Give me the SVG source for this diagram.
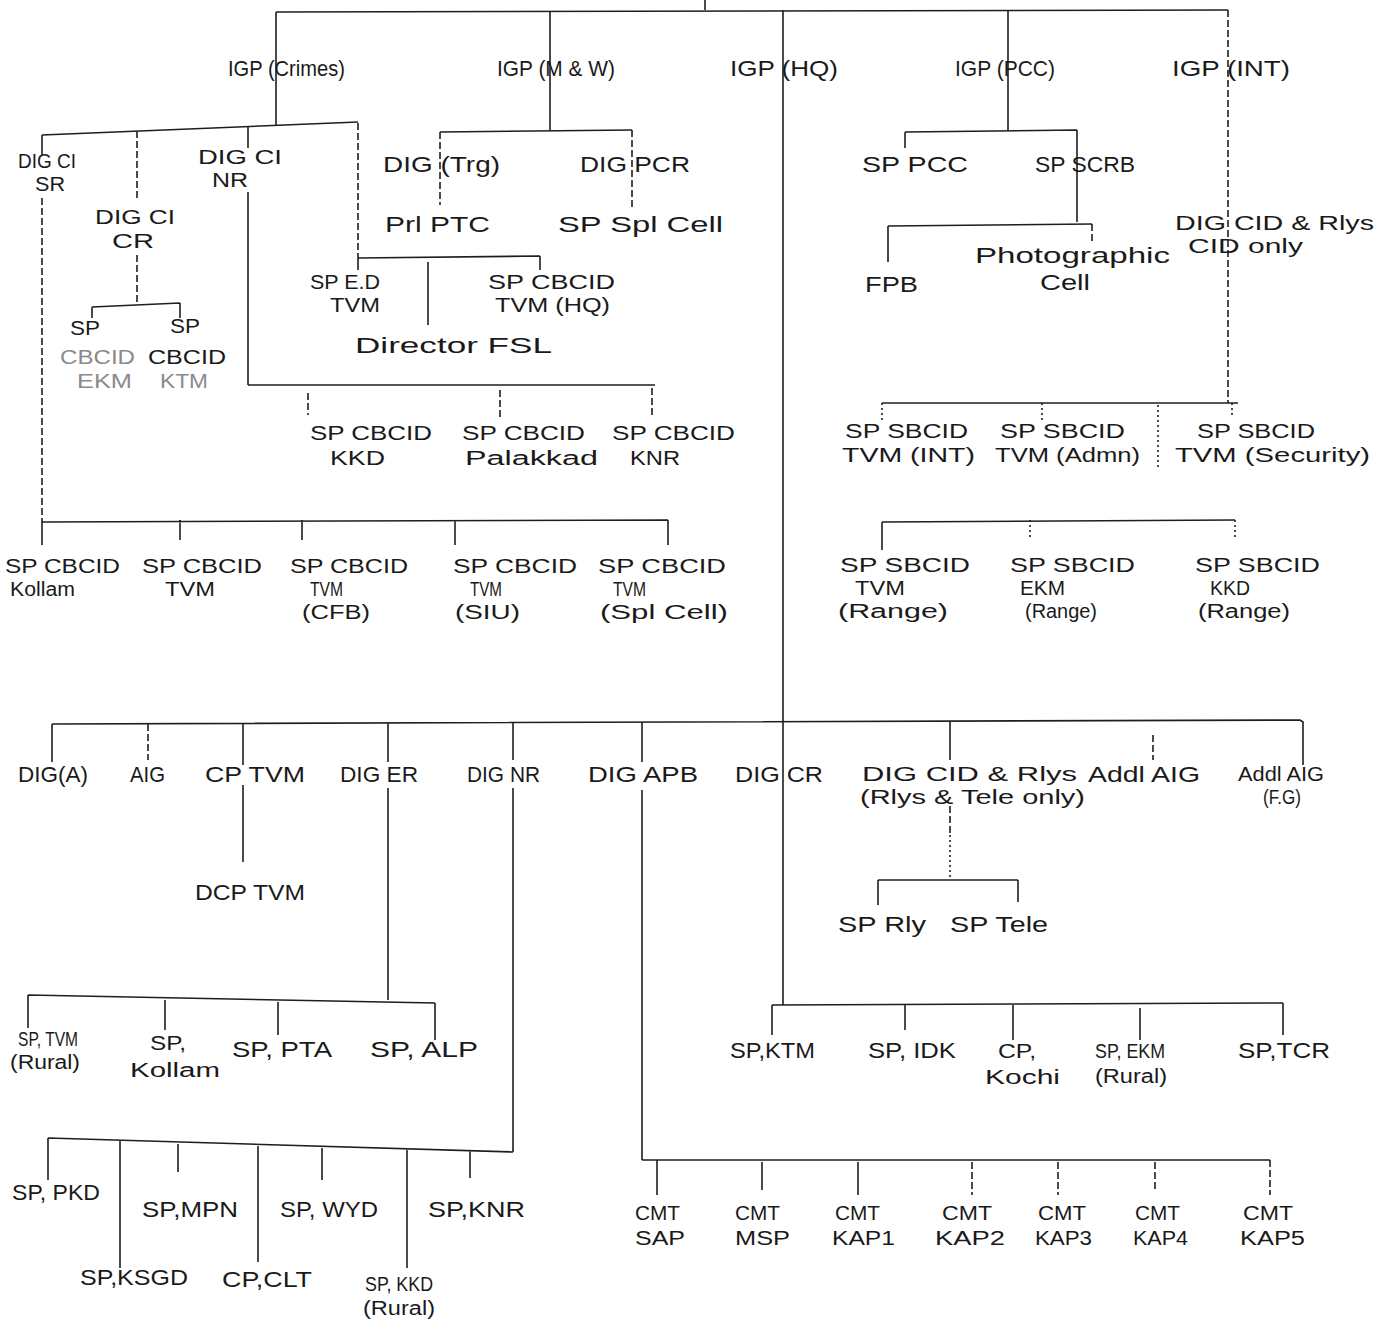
<svg xmlns="http://www.w3.org/2000/svg" width="1374" height="1323" viewBox="0 0 1374 1323">
<style>
.t{font-family:"Liberation Sans",Arial,sans-serif;font-size:22px;fill:#1a1a1a}
.s{font-size:20px}
.f{fill:#8a8a8a}
.l{stroke:#1e1e1e;stroke-width:1.6;fill:none}
.d{stroke-dasharray:7 3}
.o{stroke-dasharray:2 3}
</style>
<rect width="1374" height="1323" fill="#fff"/>
<g id="connectors">
<path class="l" d="M705 0V10M276 12L1228 10"/>
<path class="l" d="M276 12V125M550 12V130M783 10V1005M1008 10V130"/>
<path class="l d" d="M1228 10V403"/>
<path class="l" d="M42 135L358 122"/>
<path class="l" d="M42 135V156"/>
<path class="l d" d="M42 198V522"/>
<path class="l d" d="M137 131V200M137 255V305"/>
<path class="l" d="M248 127V148M248 192V385"/>
<path class="l d" d="M358 123V258"/>
<path class="l" d="M92 307L180 303M92 307V318M180 303V318"/>
<path class="l" d="M358 258L540 256M540 256V270M358 258V270M428 262V325"/>
<path class="l" d="M248 385L655 385"/>
<path class="l d" d="M308 393V415M500 390V420M652 388V415"/>
<path class="l" d="M42 522L668 520M42 522V545M180 520V540M302 520V540M455 520V545M668 520V545"/>
<path class="l" d="M440 132L632 130"/>
<path class="l d" d="M440 132V205M632 130V207"/>
<path class="l" d="M905 132L1077 130M905 132V148M1077 130V222"/>
<path class="l" d="M888 226L1092 224M888 226V262"/>
<path class="l d" d="M1092 224V242"/>
<path class="l" d="M882 403L1238 403"/>
<path class="l o" d="M882 403V420M1042 403V420M1232 403V415M1158 405V470"/>
<path class="l" d="M882 522L1235 520M882 522V550"/>
<path class="l o" d="M1030 520V540M1235 520V540"/>
<path class="l" d="M52 724L1300 720L1303 722V765"/>
<path class="l" d="M52 724V762M243 723V765M388 723V762M513 722V760M642 722V762M950 722V760"/>
<path class="l d" d="M148 724V760M1153 735V760M950 806V835"/>
<path class="l o" d="M950 835V880"/>
<path class="l" d="M243 785V862M388 788V1000M513 788V1152M642 790V1160"/>
<path class="l" d="M878 880L1018 880M878 880V905M1018 880V902"/>
<path class="l" d="M28 995L435 1003M28 995V1028M165 1000V1030M278 1002V1035M435 1003V1040"/>
<path class="l" d="M48 1138L513 1152M48 1138V1180M120 1140V1268M178 1144V1172M258 1146V1262M322 1148V1180M407 1150V1268M470 1151V1178"/>
<path class="l" d="M772 1005L1283 1003M772 1005V1035M905 1005V1030M1013 1005V1040M1140 1008V1040M1283 1003V1035"/>
<path class="l" d="M642 1160L1270 1160M657 1160V1195M762 1162V1190M858 1162V1195"/>
<path class="l d" d="M972 1162V1195M1058 1162V1195M1155 1162V1190M1270 1160V1195"/>
</g>
<g id="igp-crimes"><text class="t" x="228" y="76" textLength="117" lengthAdjust="spacingAndGlyphs">IGP (Crimes)</text></g>
<g id="igp-mw"><text class="t" x="497" y="76" textLength="118" lengthAdjust="spacingAndGlyphs">IGP (M &amp; W)</text></g>
<g id="igp-hq"><text class="t" x="730" y="76" textLength="108" lengthAdjust="spacingAndGlyphs">IGP (HQ)</text></g>
<g id="igp-pcc"><text class="t" x="955" y="76" textLength="100" lengthAdjust="spacingAndGlyphs">IGP (PCC)</text></g>
<g id="igp-int"><text class="t" x="1172" y="76" textLength="118" lengthAdjust="spacingAndGlyphs">IGP (INT)</text></g>
<g id="dig-ci-sr"><text class="t s" x="18" y="168" textLength="58" lengthAdjust="spacingAndGlyphs">DIG CI</text><text class="t s" x="35" y="191" textLength="30" lengthAdjust="spacingAndGlyphs">SR</text></g>
<g id="dig-ci-nr"><text class="t s" x="198" y="164" textLength="84" lengthAdjust="spacingAndGlyphs">DIG CI</text><text class="t s" x="212" y="187" textLength="36" lengthAdjust="spacingAndGlyphs">NR</text></g>
<g id="dig-ci-cr"><text class="t s" x="95" y="224" textLength="80" lengthAdjust="spacingAndGlyphs">DIG CI</text><text class="t s" x="112" y="248" textLength="42" lengthAdjust="spacingAndGlyphs">CR</text></g>
<g id="sp-cbcid-ekm"><text class="t s" x="70" y="335" textLength="30" lengthAdjust="spacingAndGlyphs">SP</text><text class="t s f" x="60" y="364" textLength="75" lengthAdjust="spacingAndGlyphs">CBCID</text><text class="t s f" x="77" y="388" textLength="55" lengthAdjust="spacingAndGlyphs">EKM</text></g>
<g id="sp-cbcid-ktm"><text class="t s" x="170" y="333" textLength="30" lengthAdjust="spacingAndGlyphs">SP</text><text class="t s" x="148" y="364" textLength="78" lengthAdjust="spacingAndGlyphs">CBCID</text><text class="t s f" x="160" y="388" textLength="48" lengthAdjust="spacingAndGlyphs">KTM</text></g>
<g id="sp-ed-tvm"><text class="t s" x="310" y="289" textLength="70" lengthAdjust="spacingAndGlyphs">SP E.D</text><text class="t s" x="330" y="312" textLength="50" lengthAdjust="spacingAndGlyphs">TVM</text></g>
<g id="sp-cbcid-tvm-hq"><text class="t s" x="488" y="289" textLength="127" lengthAdjust="spacingAndGlyphs">SP CBCID</text><text class="t s" x="495" y="312" textLength="115" lengthAdjust="spacingAndGlyphs">TVM (HQ)</text></g>
<g id="director-fsl"><text class="t" x="355" y="353" textLength="197" lengthAdjust="spacingAndGlyphs">Director FSL</text></g>
<g id="sp-cbcid-kkd"><text class="t s" x="310" y="440" textLength="122" lengthAdjust="spacingAndGlyphs">SP CBCID</text><text class="t s" x="330" y="465" textLength="55" lengthAdjust="spacingAndGlyphs">KKD</text></g>
<g id="sp-cbcid-palakkad"><text class="t s" x="462" y="440" textLength="123" lengthAdjust="spacingAndGlyphs">SP CBCID</text><text class="t s" x="465" y="465" textLength="133" lengthAdjust="spacingAndGlyphs">Palakkad</text></g>
<g id="sp-cbcid-knr"><text class="t s" x="612" y="440" textLength="123" lengthAdjust="spacingAndGlyphs">SP CBCID</text><text class="t s" x="630" y="465" textLength="50" lengthAdjust="spacingAndGlyphs">KNR</text></g>
<g id="dig-trg"><text class="t" x="383" y="172" textLength="117" lengthAdjust="spacingAndGlyphs">DIG (Trg)</text></g>
<g id="dig-pcr"><text class="t" x="580" y="172" textLength="110" lengthAdjust="spacingAndGlyphs">DIG PCR</text></g>
<g id="prl-ptc"><text class="t" x="385" y="232" textLength="105" lengthAdjust="spacingAndGlyphs">Prl PTC</text></g>
<g id="sp-spl-cell"><text class="t" x="558" y="232" textLength="165" lengthAdjust="spacingAndGlyphs">SP Spl Cell</text></g>
<g id="sp-cbcid-kollam"><text class="t s" x="5" y="573" textLength="115" lengthAdjust="spacingAndGlyphs">SP CBCID</text><text class="t s" x="10" y="596" textLength="65" lengthAdjust="spacingAndGlyphs">Kollam</text></g>
<g id="sp-cbcid-tvm"><text class="t s" x="142" y="573" textLength="120" lengthAdjust="spacingAndGlyphs">SP CBCID</text><text class="t s" x="165" y="596" textLength="50" lengthAdjust="spacingAndGlyphs">TVM</text></g>
<g id="sp-cbcid-tvm-cfb"><text class="t s" x="290" y="573" textLength="118" lengthAdjust="spacingAndGlyphs">SP CBCID</text><text class="t s" x="310" y="596" textLength="33" lengthAdjust="spacingAndGlyphs">TVM</text><text class="t s" x="302" y="619" textLength="68" lengthAdjust="spacingAndGlyphs">(CFB)</text></g>
<g id="sp-cbcid-tvm-siu"><text class="t s" x="453" y="573" textLength="124" lengthAdjust="spacingAndGlyphs">SP CBCID</text><text class="t s" x="470" y="596" textLength="32" lengthAdjust="spacingAndGlyphs">TVM</text><text class="t s" x="455" y="619" textLength="65" lengthAdjust="spacingAndGlyphs">(SIU)</text></g>
<g id="sp-cbcid-tvm-spl"><text class="t s" x="598" y="573" textLength="128" lengthAdjust="spacingAndGlyphs">SP CBCID</text><text class="t s" x="613" y="596" textLength="33" lengthAdjust="spacingAndGlyphs">TVM</text><text class="t s" x="600" y="619" textLength="128" lengthAdjust="spacingAndGlyphs">(Spl Cell)</text></g>
<g id="sp-pcc"><text class="t" x="862" y="172" textLength="106" lengthAdjust="spacingAndGlyphs">SP PCC</text></g>
<g id="sp-scrb"><text class="t" x="1035" y="172" textLength="100" lengthAdjust="spacingAndGlyphs">SP SCRB</text></g>
<g id="fpb"><text class="t" x="865" y="292" textLength="53" lengthAdjust="spacingAndGlyphs">FPB</text></g>
<g id="photographic-cell"><text class="t" x="975" y="263" textLength="195" lengthAdjust="spacingAndGlyphs">Photographic</text><text class="t" x="1040" y="290" textLength="50" lengthAdjust="spacingAndGlyphs">Cell</text></g>
<g id="dig-cid-rlys-cid"><text class="t s" x="1175" y="230" textLength="199" lengthAdjust="spacingAndGlyphs">DIG CID &amp; Rlys</text><text class="t s" x="1188" y="253" textLength="115" lengthAdjust="spacingAndGlyphs">CID only</text></g>
<g id="sp-sbcid-int"><text class="t s" x="845" y="438" textLength="123" lengthAdjust="spacingAndGlyphs">SP SBCID</text><text class="t s" x="842" y="462" textLength="133" lengthAdjust="spacingAndGlyphs">TVM (INT)</text></g>
<g id="sp-sbcid-admn"><text class="t s" x="1000" y="438" textLength="125" lengthAdjust="spacingAndGlyphs">SP SBCID</text><text class="t s" x="995" y="462" textLength="145" lengthAdjust="spacingAndGlyphs">TVM (Admn)</text></g>
<g id="sp-sbcid-security"><text class="t s" x="1197" y="438" textLength="118" lengthAdjust="spacingAndGlyphs">SP SBCID</text><text class="t s" x="1175" y="462" textLength="195" lengthAdjust="spacingAndGlyphs">TVM (Security)</text></g>
<g id="sp-sbcid-tvm-range"><text class="t s" x="840" y="572" textLength="130" lengthAdjust="spacingAndGlyphs">SP SBCID</text><text class="t s" x="855" y="595" textLength="50" lengthAdjust="spacingAndGlyphs">TVM</text><text class="t s" x="838" y="618" textLength="110" lengthAdjust="spacingAndGlyphs">(Range)</text></g>
<g id="sp-sbcid-ekm-range"><text class="t s" x="1010" y="572" textLength="125" lengthAdjust="spacingAndGlyphs">SP SBCID</text><text class="t s" x="1020" y="595" textLength="45" lengthAdjust="spacingAndGlyphs">EKM</text><text class="t s" x="1025" y="618" textLength="72" lengthAdjust="spacingAndGlyphs">(Range)</text></g>
<g id="sp-sbcid-kkd-range"><text class="t s" x="1195" y="572" textLength="125" lengthAdjust="spacingAndGlyphs">SP SBCID</text><text class="t s" x="1210" y="595" textLength="40" lengthAdjust="spacingAndGlyphs">KKD</text><text class="t s" x="1198" y="618" textLength="92" lengthAdjust="spacingAndGlyphs">(Range)</text></g>
<g id="dig-a"><text class="t" x="18" y="782" textLength="70" lengthAdjust="spacingAndGlyphs">DIG(A)</text></g>
<g id="aig"><text class="t" x="130" y="782" textLength="35" lengthAdjust="spacingAndGlyphs">AIG</text></g>
<g id="cp-tvm"><text class="t" x="205" y="782" textLength="100" lengthAdjust="spacingAndGlyphs">CP TVM</text></g>
<g id="dig-er"><text class="t" x="340" y="782" textLength="78" lengthAdjust="spacingAndGlyphs">DIG ER</text></g>
<g id="dig-nr"><text class="t" x="467" y="782" textLength="73" lengthAdjust="spacingAndGlyphs">DIG NR</text></g>
<g id="dig-apb"><text class="t" x="588" y="782" textLength="110" lengthAdjust="spacingAndGlyphs">DIG APB</text></g>
<g id="dig-cr"><text class="t" x="735" y="782" textLength="88" lengthAdjust="spacingAndGlyphs">DIG CR</text></g>
<g id="dig-cid-rlys-tele"><text class="t s" x="862" y="781" textLength="215" lengthAdjust="spacingAndGlyphs">DIG CID &amp; Rlys</text><text class="t s" x="860" y="804" textLength="225" lengthAdjust="spacingAndGlyphs">(Rlys &amp; Tele only)</text></g>
<g id="addl-aig"><text class="t" x="1088" y="782" textLength="112" lengthAdjust="spacingAndGlyphs">Addl AIG</text></g>
<g id="addl-aig-fg"><text class="t s" x="1238" y="781" textLength="86" lengthAdjust="spacingAndGlyphs">Addl AIG</text><text class="t s" x="1263" y="804" textLength="38" lengthAdjust="spacingAndGlyphs">(F.G)</text></g>
<g id="dcp-tvm"><text class="t" x="195" y="900" textLength="110" lengthAdjust="spacingAndGlyphs">DCP TVM</text></g>
<g id="sp-rly"><text class="t" x="838" y="932" textLength="88" lengthAdjust="spacingAndGlyphs">SP Rly</text></g>
<g id="sp-tele"><text class="t" x="950" y="932" textLength="98" lengthAdjust="spacingAndGlyphs">SP Tele</text></g>
<g id="sp-tvm-rural"><text class="t s" x="18" y="1046" textLength="60" lengthAdjust="spacingAndGlyphs">SP, TVM</text><text class="t s" x="10" y="1069" textLength="70" lengthAdjust="spacingAndGlyphs">(Rural)</text></g>
<g id="sp-kollam"><text class="t s" x="150" y="1050" textLength="36" lengthAdjust="spacingAndGlyphs">SP,</text><text class="t s" x="130" y="1077" textLength="90" lengthAdjust="spacingAndGlyphs">Kollam</text></g>
<g id="sp-pta"><text class="t" x="232" y="1057" textLength="100" lengthAdjust="spacingAndGlyphs">SP, PTA</text></g>
<g id="sp-alp"><text class="t" x="370" y="1057" textLength="108" lengthAdjust="spacingAndGlyphs">SP, ALP</text></g>
<g id="sp-pkd"><text class="t" x="12" y="1200" textLength="88" lengthAdjust="spacingAndGlyphs">SP, PKD</text></g>
<g id="sp-mpn"><text class="t" x="142" y="1217" textLength="96" lengthAdjust="spacingAndGlyphs">SP,MPN</text></g>
<g id="sp-wyd"><text class="t" x="280" y="1217" textLength="98" lengthAdjust="spacingAndGlyphs">SP, WYD</text></g>
<g id="sp-knr"><text class="t" x="428" y="1217" textLength="97" lengthAdjust="spacingAndGlyphs">SP,KNR</text></g>
<g id="sp-ksgd"><text class="t" x="80" y="1285" textLength="108" lengthAdjust="spacingAndGlyphs">SP,KSGD</text></g>
<g id="cp-clt"><text class="t" x="222" y="1287" textLength="90" lengthAdjust="spacingAndGlyphs">CP,CLT</text></g>
<g id="sp-kkd-rural"><text class="t s" x="365" y="1291" textLength="68" lengthAdjust="spacingAndGlyphs">SP, KKD</text><text class="t s" x="363" y="1315" textLength="72" lengthAdjust="spacingAndGlyphs">(Rural)</text></g>
<g id="sp-ktm"><text class="t" x="730" y="1058" textLength="85" lengthAdjust="spacingAndGlyphs">SP,KTM</text></g>
<g id="sp-idk"><text class="t" x="868" y="1058" textLength="88" lengthAdjust="spacingAndGlyphs">SP, IDK</text></g>
<g id="cp-kochi"><text class="t s" x="998" y="1058" textLength="38" lengthAdjust="spacingAndGlyphs">CP,</text><text class="t s" x="985" y="1084" textLength="75" lengthAdjust="spacingAndGlyphs">Kochi</text></g>
<g id="sp-ekm-rural"><text class="t s" x="1095" y="1058" textLength="70" lengthAdjust="spacingAndGlyphs">SP, EKM</text><text class="t s" x="1095" y="1083" textLength="72" lengthAdjust="spacingAndGlyphs">(Rural)</text></g>
<g id="sp-tcr"><text class="t" x="1238" y="1058" textLength="92" lengthAdjust="spacingAndGlyphs">SP,TCR</text></g>
<g id="cmt-sap"><text class="t s" x="635" y="1220" textLength="45" lengthAdjust="spacingAndGlyphs">CMT</text><text class="t s" x="635" y="1245" textLength="50" lengthAdjust="spacingAndGlyphs">SAP</text></g>
<g id="cmt-msp"><text class="t s" x="735" y="1220" textLength="45" lengthAdjust="spacingAndGlyphs">CMT</text><text class="t s" x="735" y="1245" textLength="55" lengthAdjust="spacingAndGlyphs">MSP</text></g>
<g id="cmt-kap1"><text class="t s" x="835" y="1220" textLength="45" lengthAdjust="spacingAndGlyphs">CMT</text><text class="t s" x="832" y="1245" textLength="63" lengthAdjust="spacingAndGlyphs">KAP1</text></g>
<g id="cmt-kap2"><text class="t s" x="942" y="1220" textLength="50" lengthAdjust="spacingAndGlyphs">CMT</text><text class="t s" x="935" y="1245" textLength="70" lengthAdjust="spacingAndGlyphs">KAP2</text></g>
<g id="cmt-kap3"><text class="t s" x="1038" y="1220" textLength="48" lengthAdjust="spacingAndGlyphs">CMT</text><text class="t s" x="1035" y="1245" textLength="57" lengthAdjust="spacingAndGlyphs">KAP3</text></g>
<g id="cmt-kap4"><text class="t s" x="1135" y="1220" textLength="45" lengthAdjust="spacingAndGlyphs">CMT</text><text class="t s" x="1133" y="1245" textLength="55" lengthAdjust="spacingAndGlyphs">KAP4</text></g>
<g id="cmt-kap5"><text class="t s" x="1243" y="1220" textLength="50" lengthAdjust="spacingAndGlyphs">CMT</text><text class="t s" x="1240" y="1245" textLength="65" lengthAdjust="spacingAndGlyphs">KAP5</text></g>
</svg>
